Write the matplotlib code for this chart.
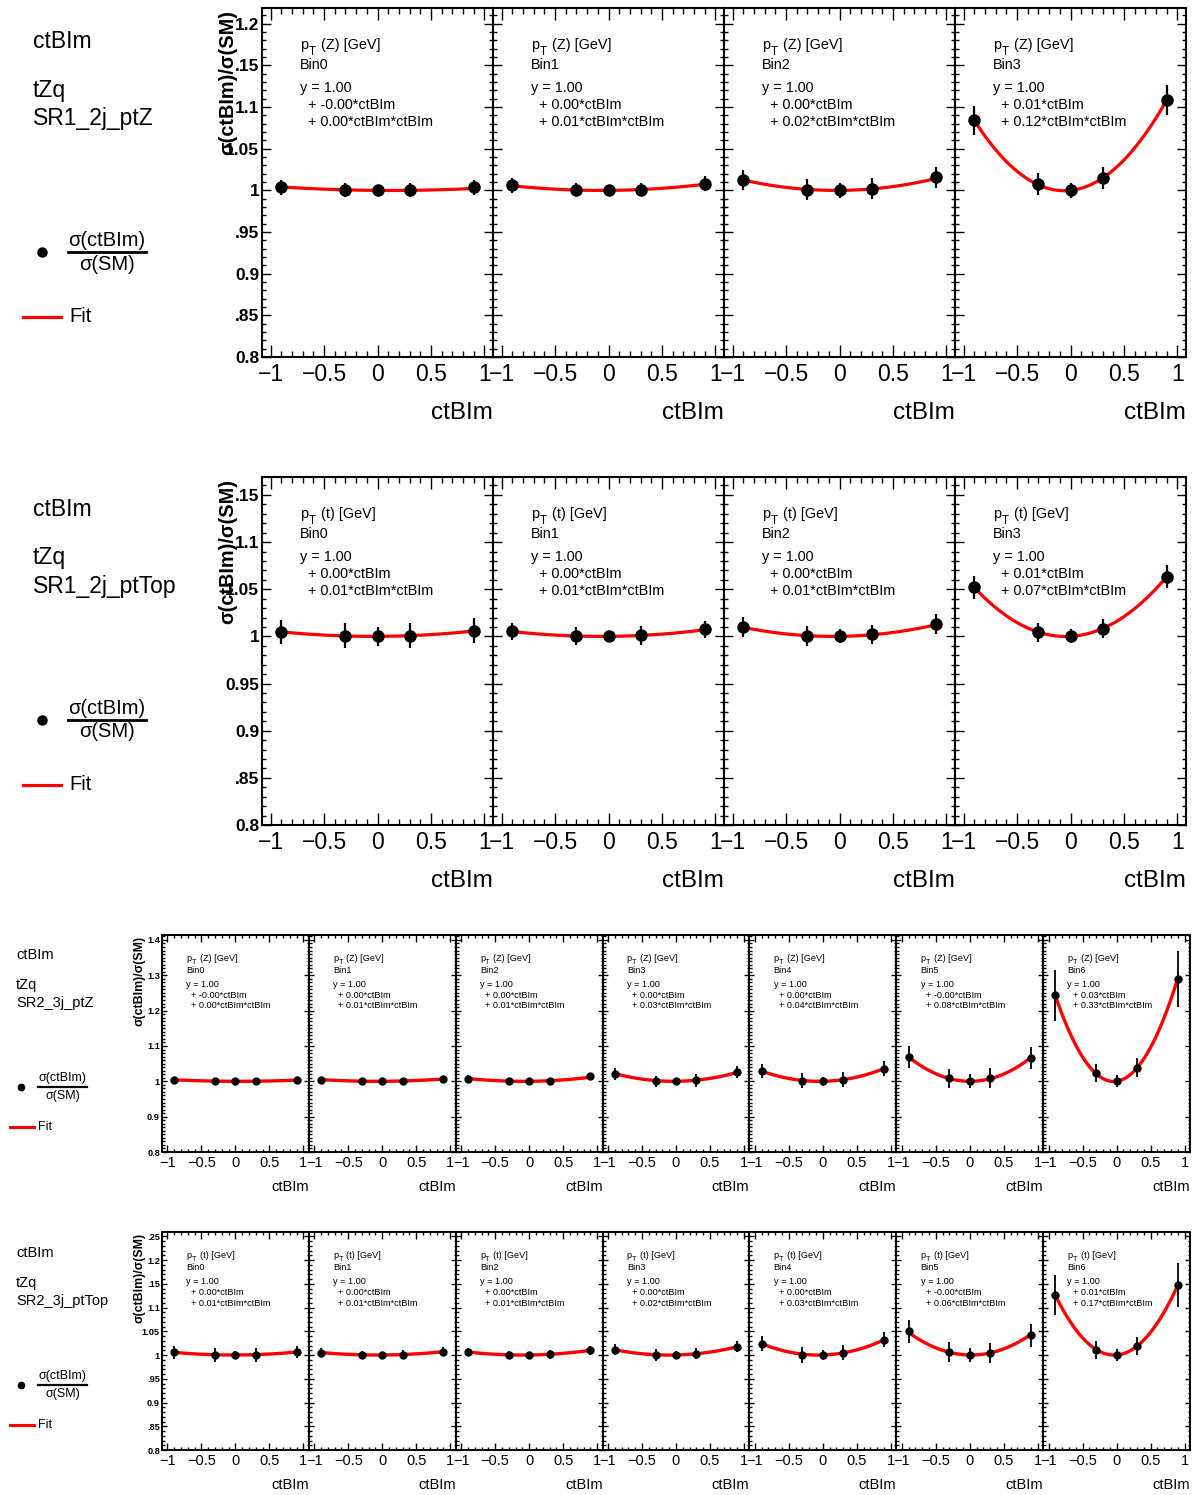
import numpy as np
import matplotlib
matplotlib.use("Agg")
import matplotlib.pyplot as plt
from matplotlib.ticker import MultipleLocator, FixedLocator, FixedFormatter
from matplotlib.lines import Line2D
from matplotlib.transforms import offset_copy

plt.rcParams['font.family'] = ['Liberation Sans', 'DejaVu Sans']
plt.rcParams['axes.unicode_minus'] = True

# ---------------- data ----------------
coupling = "ctBIm"
process = "tZq"
x_points = [-0.9, -0.3, 0.0, 0.3, 0.9]

# SR1_2j_ptZ  (4 bins)
r1_region = "SR1_2j_ptZ"
r1_var = "Z"
r1_vals = [[1.004, 1.0006, 1.000, 1.0006, 1.004],
           [1.006, 1.001, 1.000, 1.001, 1.008],
           [1.0128, 1.0008, 1.000, 1.002, 1.0156],
           [1.0841, 1.0074, 1.000, 1.015, 1.1086]]
r1_errs = [[0.009, 0.008, 0.006, 0.008, 0.009],
           [0.009, 0.008, 0.006, 0.008, 0.009],
           [0.012, 0.0125, 0.009, 0.0125, 0.013],
           [0.017, 0.013, 0.0094, 0.013, 0.018]]
r1_const = [1.0, 1.0, 1.0, 1.0]
r1_lin = [-0.001, 0.001, 0.001, 0.0136]
r1_quad = [0.004, 0.008, 0.0165, 0.119]
r1_ytick_vals = [0.8, 0.85, 0.9, 0.95, 1.0, 1.05, 1.1, 1.15, 1.2]
r1_ytick_labels = ["0.8", ".85", "0.9", ".95", "1", "1.05", "1.1", ".15", "1.2"]
r1_ylim = (0.8, 1.219)

# SR1_2j_ptTop (4 bins)
r2_region = "SR1_2j_ptTop"
r2_var = "t"
r2_vals = [[1.005, 1.0007, 1.000, 1.0007, 1.006],
           [1.0053, 1.0007, 1.000, 1.001, 1.0074],
           [1.0095, 1.0007, 1.000, 1.002, 1.0127],
           [1.052, 1.0042, 1.000, 1.0081, 1.0633]]
r2_errs = [[0.0127, 0.013, 0.0097, 0.013, 0.013],
           [0.0092, 0.0097, 0.0062, 0.010, 0.0094],
           [0.0106, 0.0104, 0.0074, 0.0102, 0.0106],
           [0.012, 0.0103, 0.0074, 0.0103, 0.0124]]
r2_const = [1.0, 1.0, 1.0, 1.0]
r2_lin = [0.0005, 0.001, 0.0015, 0.0063]
r2_quad = [0.0065, 0.0075, 0.0135, 0.0712]
r2_ytick_vals = [0.8, 0.85, 0.9, 0.95, 1.0, 1.05, 1.1, 1.15]
r2_ytick_labels = ["0.8", ".85", "0.9", "0.95", "1", "1.05", "1.1", ".15"]
r2_ylim = (0.8, 1.169)

# SR2_3j_ptZ (7 bins)
r3_region = "SR2_3j_ptZ"
r3_var = "Z"
r3_vals = [[1.004, 1.0015, 1.000, 1.0015, 1.004],
           [1.0047, 1.001, 1.000, 1.001, 1.0066],
           [1.0076, 1.000, 1.000, 1.002, 1.014],
           [1.022, 1.000, 1.000, 1.003, 1.0255],
           [1.029, 1.002, 1.000, 1.005, 1.036],
           [1.069, 1.0085, 1.000, 1.0085, 1.067],
           [1.2436, 1.0227, 1.000, 1.0387, 1.289]]
r3_errs = [[0.004, 0.004, 0.003, 0.004, 0.004],
           [0.004, 0.004, 0.003, 0.004, 0.004],
           [0.009, 0.008, 0.006, 0.008, 0.009],
           [0.017, 0.016, 0.010, 0.018, 0.017],
           [0.021, 0.021, 0.012, 0.021, 0.021],
           [0.032, 0.027, 0.020, 0.028, 0.031],
           [0.072, 0.026, 0.017, 0.027, 0.080]]
r3_const = [1.0] * 7
r3_lin = [-0.0005, 0.001, 0.002, 0.002, 0.004, -0.001, 0.027]
r3_quad = [0.0046, 0.007, 0.012, 0.029, 0.040, 0.084, 0.329]
r3_ytick_vals = [0.8, 0.9, 1.0, 1.1, 1.2, 1.3, 1.4]
r3_ytick_labels = ["0.8", "0.9", "1", "1.1", "1.2", "1.3", "1.4"]
r3_ylim = (0.8, 1.414)

# SR2_3j_ptTop (7 bins)
r4_region = "SR2_3j_ptTop"
r4_var = "t"
r4_vals = [[1.0056, 1.000, 1.000, 1.000, 1.0063],
           [1.005, 1.000, 1.000, 1.0007, 1.007],
           [1.0063, 1.000, 1.000, 1.0014, 1.0098],
           [1.0112, 1.000, 1.000, 1.0028, 1.0175],
           [1.024, 1.000, 1.000, 1.005, 1.032],
           [1.0498, 1.007, 1.000, 1.0042, 1.0414],
           [1.1256, 1.0112, 1.000, 1.0182, 1.1467]]
r4_errs = [[0.013, 0.014, 0.009, 0.014, 0.013],
           [0.009, 0.009, 0.006, 0.009, 0.009],
           [0.009, 0.009, 0.006, 0.009, 0.009],
           [0.0116, 0.012, 0.008, 0.012, 0.011],
           [0.0165, 0.0175, 0.0095, 0.016, 0.016],
           [0.0246, 0.021, 0.015, 0.022, 0.0235],
           [0.042, 0.019, 0.013, 0.019, 0.046]]
r4_const = [1.0] * 7
r4_lin = [0.0004, 0.001, 0.002, 0.0035, 0.0045, -0.0023, 0.0117]
r4_quad = [0.0073, 0.0075, 0.010, 0.0175, 0.0345, 0.056, 0.168]
r4_ytick_vals = [0.8, 0.85, 0.9, 0.95, 1.0, 1.05, 1.1, 1.15, 1.2, 1.25]
r4_ytick_labels = ["0.8", ".85", "0.9", ".95", "1", "1.05", "1.1", ".15", "1.2", ".25"]
r4_ylim = (0.8, 1.259)

x_tick_labels = ["\u22121", "\u22120.5", "0", "0.5", "1"]
x_tick_vals = [-1.0, -0.5, 0.0, 0.5, 1.0]

# ---------------- layout ----------------
W, H = 1202, 1495
fig = plt.figure(figsize=(W / 100, H / 100), dpi=100)

BIG = dict(tick_fs=16.5, ytick_fs=12.5, xlabel_fs=17.5, ylabel_fs=14.3, text_fs=10.4,
           ms=8, elw=1.6, flw=2.3, spine=1.5, xmaj=8.5, xmin=4.3, ymaj=6.5, ymin=3.0,
           ylabel_x=-0.147, xpad=4.0, ypad=2.0,
           side_fs=16.5, frac_fs=14.5, side_ms=6.5, side_lw=2.3, frac_lw=2.0,
           side=dict(tx=33, t1=42, t2=90, t3=118, dotx=42, doty=252, fx0=68, fx1=146,
                     num=240, den=264, lx0=23, lx1=61, ly=317, fitx=69))
SMALL = dict(tick_fs=10.5, ytick_fs=6.6, xlabel_fs=10.5, ylabel_fs=8.9, text_fs=6.6,
             ms=5, elw=1.3, flw=2.4, spine=1.4, xmaj=5.0, xmin=2.2, ymaj=3.6, ymin=1.8,
             ylabel_x=-0.156, xpad=3.0, ypad=1.5,
             side_fs=10.5, frac_fs=9.0, side_ms=4.5, side_lw=2.2, frac_lw=1.6,
             side=dict(tx=16, t1=955, t2=985, t3=1003, dotx=21, doty=1087, fx0=38, fx1=87,
                       num=1078, den=1096, lx0=10, lx1=34, ly=1127, fitx=38))

rows = [
    dict(region=r1_region, var=r1_var, vals=r1_vals, errs=r1_errs, const=r1_const, lin=r1_lin,
         quad=r1_quad, ytv=r1_ytick_vals, ytl=r1_ytick_labels, ylim=r1_ylim,
         box=(262, 1186, 8, 357), st=BIG, dy=0),
    dict(region=r2_region, var=r2_var, vals=r2_vals, errs=r2_errs, const=r2_const, lin=r2_lin,
         quad=r2_quad, ytv=r2_ytick_vals, ytl=r2_ytick_labels, ylim=r2_ylim,
         box=(262, 1186, 477, 825), st=BIG, dy=468),
    dict(region=r3_region, var=r3_var, vals=r3_vals, errs=r3_errs, const=r3_const, lin=r3_lin,
         quad=r3_quad, ytv=r3_ytick_vals, ytl=r3_ytick_labels, ylim=r3_ylim,
         box=(162, 1190, 935, 1152), st=SMALL, dy=0),
    dict(region=r4_region, var=r4_var, vals=r4_vals, errs=r4_errs, const=r4_const, lin=r4_lin,
         quad=r4_quad, ytv=r4_ytick_vals, ytl=r4_ytick_labels, ylim=r4_ylim,
         box=(162, 1190, 1232, 1450), st=SMALL, dy=298),
]


def fx(x):
    return x / W


def fy(y):
    return 1 - y / H


def fmt(v):
    return "%.2f" % v


for row in rows:
    st = row["st"]
    left, right, top, bottom = row["box"]
    n = len(row["vals"])
    pw = (right - left) / n
    for i in range(n):
        ax = fig.add_axes([fx(left + i * pw), fy(bottom), pw / W, (bottom - top) / H])
        ax.set_xlim(-1.08, 1.08)
        ax.set_ylim(*row["ylim"])
        # fit curve
        xs = np.linspace(x_points[0], x_points[-1], 200)
        ys = row["const"][i] + row["lin"][i] * xs + row["quad"][i] * xs ** 2
        ax.plot(xs, ys, color="#ff0000", lw=st["flw"], zorder=2, solid_capstyle="butt")
        ax.errorbar(x_points, row["vals"][i], yerr=row["errs"][i], fmt="o", color="black",
                    ms=st["ms"], elinewidth=st["elw"], capsize=0, zorder=3)
        for s in ax.spines.values():
            s.set_linewidth(st["spine"])
        ax.xaxis.set_major_locator(FixedLocator(x_tick_vals))
        ax.xaxis.set_major_formatter(FixedFormatter(x_tick_labels))
        ax.xaxis.set_minor_locator(MultipleLocator(0.1))
        ax.yaxis.set_major_locator(FixedLocator(row["ytv"]))
        ax.yaxis.set_minor_locator(MultipleLocator(0.01))
        if i == 0:
            ax.yaxis.set_major_formatter(FixedFormatter(row["ytl"]))
            ax.text(st["ylabel_x"], 0.995, "\u03c3(ctBIm)/\u03c3(SM)", transform=ax.transAxes,
                    rotation=90, ha="center", va="top", fontsize=st["ylabel_fs"],
                    fontweight="bold")
        else:
            ax.set_yticklabels([])
        ax.tick_params(axis="x", which="both", direction="in", top=True, bottom=True,
                       labelsize=st["tick_fs"], pad=st["xpad"], width=1.0)
        ax.tick_params(axis="x", which="major", length=st["xmaj"])
        ax.tick_params(axis="x", which="minor", length=st["xmin"])
        ax.tick_params(axis="y", which="both", direction="in", left=True, right=True,
                       labelsize=st["ytick_fs"], pad=st["ypad"], width=1.0)
        ax.tick_params(axis="y", which="major", length=st["ymaj"])
        ax.tick_params(axis="y", which="minor", length=st["ymin"])
        if i == 0:
            for lab in ax.get_yticklabels():
                lab.set_fontweight("bold")
        ax.text(1.0, -0.16, coupling, transform=ax.transAxes, ha="right", va="center",
                fontsize=st["xlabel_fs"])
        # annotation
        tfs = st["text_fs"]
        ax.text(0.165, 1 - 0.106, "p", transform=ax.transAxes, ha="left", va="center",
                fontsize=tfs)
        tT = offset_copy(ax.transAxes, fig=fig, x=0.58 * tfs, y=-0.5 * tfs, units="points")
        ax.text(0.165, 1 - 0.106, "T", transform=tT, ha="left", va="center",
                fontsize=tfs * 0.8)
        tR = offset_copy(ax.transAxes, fig=fig, x=1.45 * tfs, y=0, units="points")
        ax.text(0.165, 1 - 0.106, "(%s) [GeV]" % row["var"], transform=tR, ha="left",
                va="center", fontsize=tfs)
        ax.text(0.165, 1 - 0.163, "Bin%d" % i, transform=ax.transAxes, ha="left",
                va="center", fontsize=tfs)
        ax.text(0.165, 1 - 0.229, "y = %s" % fmt(row["const"][i]), transform=ax.transAxes,
                ha="left", va="center", fontsize=tfs)
        ax.text(0.20, 1 - 0.278, "+ %s*%s" % (fmt(row["lin"][i]), coupling),
                transform=ax.transAxes, ha="left", va="center", fontsize=tfs)
        ax.text(0.20, 1 - 0.327, "+ %s*%s*%s" % (fmt(row["quad"][i]), coupling, coupling),
                transform=ax.transAxes, ha="left", va="center", fontsize=tfs)

    # side legend
    sd = st["side"]
    dy = row["dy"]
    fig.text(fx(sd["tx"]), fy(sd["t1"] + dy), coupling, ha="left", va="center",
             fontsize=st["side_fs"])
    fig.text(fx(sd["tx"]), fy(sd["t2"] + dy), process, ha="left", va="center",
             fontsize=st["side_fs"])
    fig.text(fx(sd["tx"]), fy(sd["t3"] + dy), row["region"], ha="left", va="center",
             fontsize=st["side_fs"])
    fig.add_artist(Line2D([fx(sd["dotx"])], [fy(sd["doty"] + dy)], marker="o", color="black",
                          ms=st["side_ms"], lw=0))
    cx = (sd["fx0"] + sd["fx1"]) / 2
    fig.text(fx(cx), fy(sd["num"] + dy), "\u03c3(ctBIm)", ha="center", va="center",
             fontsize=st["frac_fs"])
    fig.text(fx(cx), fy(sd["den"] + dy), "\u03c3(SM)", ha="center", va="center",
             fontsize=st["frac_fs"])
    fig.add_artist(Line2D([fx(sd["fx0"]), fx(sd["fx1"])], [fy(sd["doty"] + dy)] * 2,
                          color="black", lw=st["frac_lw"]))
    fig.add_artist(Line2D([fx(sd["lx0"]), fx(sd["lx1"])], [fy(sd["ly"] + dy)] * 2,
                          color="#ff0000", lw=st["side_lw"]))
    fig.text(fx(sd["fitx"]), fy(sd["ly"] + dy), "Fit", ha="left", va="center",
             fontsize=st["frac_fs"])

fig.savefig("out.png", dpi=100)
